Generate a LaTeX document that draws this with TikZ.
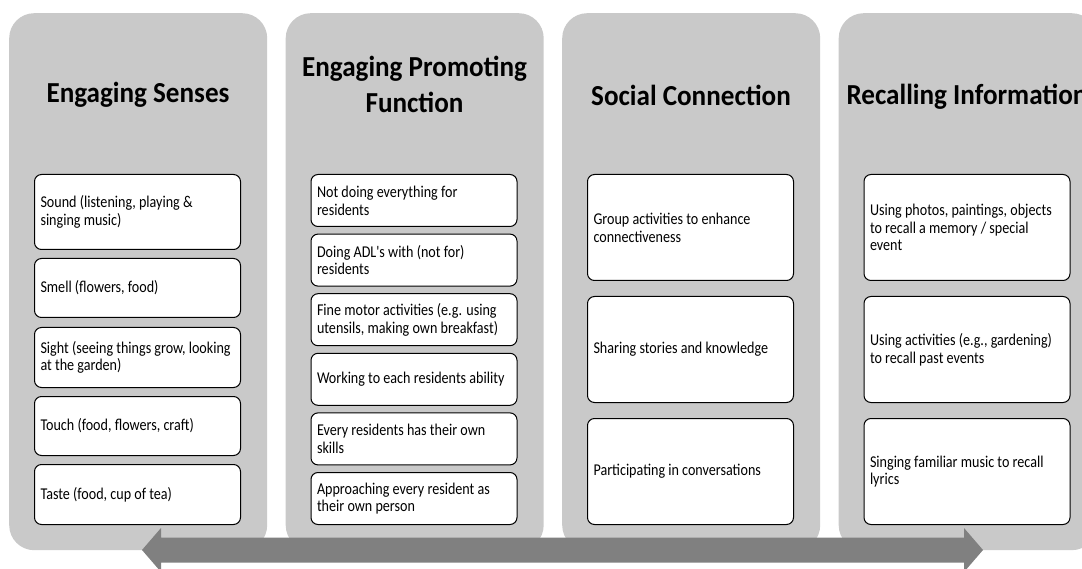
\documentclass[tikz,border=0pt]{standalone}
\usepackage{fontspec}
\setmainfont{Carlito}
\newfontfamily\headfont{Carlito}[FakeStretch=0.935]
\newfontfamily\itemfont{Carlito}[FakeStretch=0.855]
\usetikzlibrary{positioning}

\definecolor{panelgrey}{HTML}{C9C9C9}
\definecolor{arrowgrey}{HTML}{808080}

\begin{document}
\begin{tikzpicture}[
	x=1pt, y=-1pt,
	panel/.style={fill=panelgrey, rounded corners=25pt, minimum width=258pt,
		minimum height=537pt, anchor=north west, inner sep=0pt},
	heading/.style={font=\headfont\bfseries\fontsize{29}{36}\selectfont, align=center},
	item/.style={draw=black, fill=white, rounded corners=7pt, line width=1pt,
		anchor=north west, text width=194pt, inner xsep=6pt, inner ysep=0pt,
		align=flush left, minimum height=#1, font=\itemfont\fontsize{16.5}{17.7}\selectfont}]

	\useasboundingbox (0,0) rectangle (1082,569);

	% four grey columns
	\node[panel] (senses) at (9,13) {};
	\node[panel] (function) at (285.5,13) {};
	\node[panel] (social) at (562,13) {};
	\node[panel] (recall) at (838.5,13) {};

	\node[heading] (sensesTitle) at (138,95) {Engaging Senses};
	\node[heading] (functionTitle) at (414.5,84) {Engaging Promoting\\Function};
	\node[heading] (socialTitle) at (691,95) {Social Connection};
	\node[heading, anchor=west] (recallTitle) at (843,97) {Recalling Information};

	% engaging senses
	\node[item=75pt] (sound) at (34,174) {Sound (listening, playing \&\\singing music)};
	\node[item=59pt] (smell) at (34,258) {Smell (flowers, food)};
	\node[item=60pt] (sight) at (34,327) {Sight (seeing things grow, looking\\at the garden)};
	\node[item=59pt] (touch) at (34,396) {Touch (food, flowers, craft)};
	\node[item=60pt] (taste) at (34,464) {Taste (food, cup of tea)};

	% engaging promoting function
	\node[item=52pt] (notdoing) at (310.5,174) {Not doing everything for\\residents};
	\node[item=52pt] (adl) at (310.5,233.6) {Doing ADL's with (not for)\\residents};
	\node[item=52pt] (motor) at (310.5,293.2) {Fine motor activities (e.g. using\\utensils, making own breakfast)};
	\node[item=52pt] (ability) at (310.5,352.8) {Working to each residents ability};
	\node[item=52pt] (skills) at (310.5,412.4) {Every residents has their own\\skills};
	\node[item=52pt] (person) at (310.5,472) {Approaching every resident as\\their own person};

	% social connection
	\node[item=106pt] (group) at (587,174) {Group activities to enhance\\connectiveness};
	\node[item=106pt] (stories) at (587,296) {Sharing stories and knowledge};
	\node[item=106pt] (talk) at (587,418) {Participating in conversations};

	% recalling information
	\node[item=106pt] (photos) at (863.5,174) {Using photos, paintings, objects\\to recall a memory / special\\event};
	\node[item=106pt] (garden) at (863.5,296) {Using activities (e.g., gardening)\\to recall past events};
	\node[item=106pt] (lyrics) at (863.5,418) {Singing familiar music to recall\\lyrics};

	% double arrow along the bottom
	\coordinate (left) at (142,550);
	\coordinate (right) at (983,550);
	\fill[arrowgrey] (left) -- (161,528) -- (161,537.5) -- (964,537.5) -- (964,528)
		-- (right) -- (964,572) -- (964,562.5) -- (161,562.5) -- (161,572) -- cycle;

\end{tikzpicture}
\end{document}
